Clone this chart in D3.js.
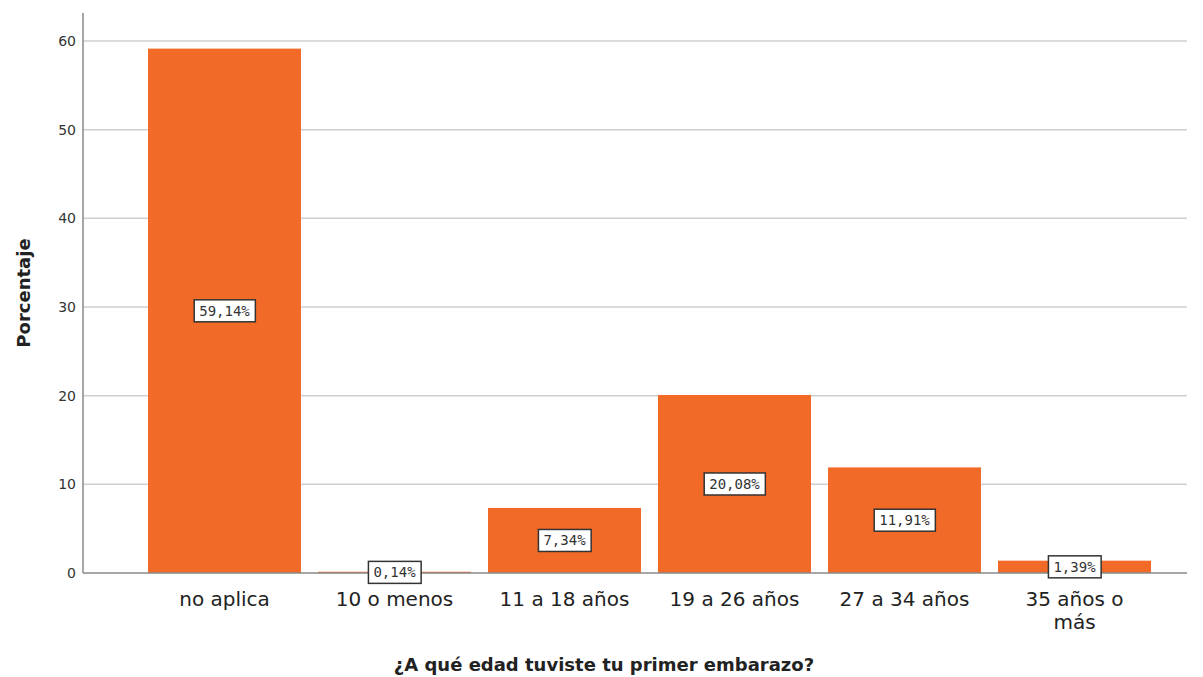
<!DOCTYPE html>
<html><head><meta charset="utf-8">
<script src="https://cdn.jsdelivr.net/npm/d3@7"></script>
<style>body{margin:0;background:#fff}</style>
</head><body>
<svg id="c" width="1203" height="677"></svg>
<script>
const categories = ["no aplica", "10 o menos", "11 a 18 años", "19 a 26 años", "27 a 34 años", "35 años o más"];
const values = [59.14, 0.14, 7.34, 20.08, 11.91, 1.39];
const valueLabels = ["59,14%", "0,14%", "7,34%", "20,08%", "11,91%", "1,39%"];
const yTicks = [0, 10, 20, 30, 40, 50, 60];

(function () {
const svg = d3.select("#c");
const pL = 83, pR = 1187, pT = 13, pB = 573;
const y = d3.scaleLinear().domain([0, 60]).range([pB, 41]);
const x = d3.scaleBand().domain(categories).range([139.5, 1159.5]).paddingInner(0.1).paddingOuter(0.05);

// gridlines
svg.append("g").selectAll("line").data(yTicks.filter(d => d > 0)).join("line")
  .attr("x1", pL).attr("x2", pR).attr("y1", d => y(d)).attr("y2", d => y(d))
  .attr("stroke", "#cfcfcf").attr("stroke-width", 1.5);

// y axis
const yAxis = svg.append("g").attr("transform", `translate(${pL},0)`)
  .call(d3.axisLeft(y).tickValues(yTicks).tickSize(0).tickPadding(7));
yAxis.select(".domain").remove();
yAxis.selectAll("text").attr("font-family", "DejaVu Sans, sans-serif").attr("font-size", 14).attr("fill", "#333");
svg.append("line").attr("x1", pL).attr("x2", pL).attr("y1", pT).attr("y2", pB)
  .attr("stroke", "#888").attr("stroke-width", 1.5);

// bars
svg.append("g").selectAll("rect").data(values).join("rect")
  .attr("x", (d, i) => x(categories[i])).attr("width", x.bandwidth())
  .attr("y", d => y(d)).attr("height", d => pB - y(d))
  .attr("fill", "#F26A28");

// x axis baseline
svg.append("line").attr("x1", pL).attr("x2", pR).attr("y1", pB).attr("y2", pB)
  .attr("stroke", "#888").attr("stroke-width", 1.5);

// category labels
const xl = svg.append("g");
categories.forEach((c, i) => {
  const cx = x(c) + x.bandwidth() / 2;
  if (c === "35 años o más") {
    ["35 años o", "más"].forEach((line, k) => {
      xl.append("text").attr("x", cx).attr("y", 606 + k * 23).attr("text-anchor", "middle")
        .attr("font-family", "DejaVu Sans, sans-serif").attr("font-size", 20).attr("fill", "#222")
        .text(line);
    });
  } else {
    xl.append("text").attr("x", cx).attr("y", 606).attr("text-anchor", "middle")
      .attr("font-family", "DejaVu Sans, sans-serif").attr("font-size", 20).attr("fill", "#222")
      .text(c);
  }
});

// value labels
const vl = svg.append("g");
values.forEach((v, i) => {
  const cx = x(categories[i]) + x.bandwidth() / 2;
  const cy = y(v / 2);
  const g = vl.append("g");
  const t = g.append("text").attr("x", cx).attr("y", cy + 5).attr("text-anchor", "middle")
    .attr("font-family", "DejaVu Sans Mono, monospace").attr("font-size", 14).attr("fill", "#333")
    .text(valueLabels[i]);
  const bb = t.node().getBBox();
  g.insert("rect", "text").attr("x", bb.x - 5).attr("y", cy - 11).attr("width", bb.width + 10).attr("height", 22)
    .attr("fill", "#fff").attr("stroke", "#333").attr("stroke-width", 1.5);
});

// axis titles
svg.append("text").attr("x", 604).attr("y", 671).attr("text-anchor", "middle")
  .attr("font-family", "DejaVu Sans, sans-serif").attr("font-weight", "bold").attr("font-size", 18).attr("fill", "#222")
  .text("¿A qué edad tuviste tu primer embarazo?");
svg.append("text").attr("transform", "translate(30,293) rotate(-90)").attr("text-anchor", "middle")
  .attr("font-family", "DejaVu Sans, sans-serif").attr("font-weight", "bold").attr("font-size", 18).attr("fill", "#222")
  .text("Porcentaje");
})();
</script>
</body></html>
